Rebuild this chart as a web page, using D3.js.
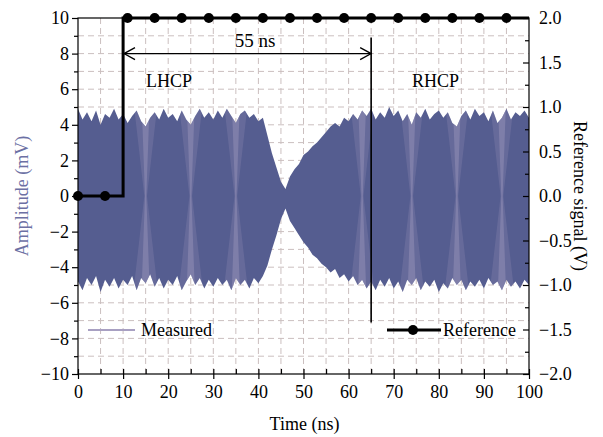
<!DOCTYPE html>
<html>
<head>
<meta charset="utf-8">
<script src="https://cdn.jsdelivr.net/npm/d3@7"></script>
<style>
  body { margin: 0; background: #fff; }
  text { font-family: "Liberation Serif", "Times New Roman", serif; }
</style>
</head>
<body>
<div id="chart"></div>
<script>
// measured envelope, every 1 ns (mV)
const timeNs = d3.range(0, 101)
const upperMv = [
  4.9, 4.3, 4.7, 4.2, 4.8, 4.0, 4.6, 4.4, 4.9, 4.3,
  4.6, 4.1, 4.5, 4.8, 4.2, 3.9, 4.4, 4.7, 4.3, 4.9,
  4.4, 4.6, 4.2, 4.8, 4.3, 4.0, 4.5, 4.9, 4.4, 4.7,
  4.3, 4.8, 4.4, 4.9, 4.5, 4.1, 4.6, 4.8, 4.4, 4.6,
  4.2, 4.4, 3.4, 2.4, 1.6, 0.8, 0.4, 1.1, 1.5, 1.8,
  2.3, 2.5, 2.8, 3.0, 3.3, 3.6, 3.9, 4.1, 3.9, 4.4,
  4.2, 4.6, 4.3, 4.8, 4.5, 4.9, 4.3, 4.7, 4.4, 5.0,
  4.5, 4.8, 4.2, 4.6, 4.0, 4.7, 4.4, 4.9, 4.3, 4.6,
  4.8, 4.4, 4.7, 4.1, 3.9, 4.5, 4.8, 4.3, 4.9, 4.5,
  4.7, 4.2, 4.8, 4.1, 4.4, 4.9, 4.3, 4.7, 4.5, 4.8,
  4.4
]
const lowerMv = [
  -4.8, -5.3, -4.6, -5.0, -4.5, -5.4, -4.7, -5.1, -4.6, -5.2,
  -4.7, -5.0, -4.5, -5.3, -4.6, -4.9, -4.4, -5.1, -4.6, -5.2,
  -4.7, -5.0, -4.5, -5.3, -4.8, -4.4, -5.0, -4.6, -5.2, -4.7,
  -5.1, -4.6, -5.0, -4.7, -5.3, -4.6, -5.0, -4.7, -5.2, -4.6,
  -4.9, -4.5, -3.9, -3.0, -2.2, -1.3, -0.7, -1.4, -1.8, -2.2,
  -2.6, -2.9, -3.3, -3.5, -3.8, -4.0, -4.3, -4.1, -4.6, -4.4,
  -4.8, -4.5, -5.0, -4.7, -5.2, -4.8, -5.3, -4.7, -5.1, -4.6,
  -5.2, -4.8, -5.4, -4.7, -5.0, -4.6, -5.3, -4.8, -5.1, -4.7,
  -5.4, -4.9, -5.2, -4.6, -5.0, -4.7, -5.3, -4.8, -5.1, -4.7,
  -5.2, -4.6, -5.0, -4.8, -5.3, -4.7, -5.1, -4.8, -5.2, -4.7,
  -5.0
]
// lighter beat streaks in the measured trace (ns)
const streakNs = [15, 25, 35, 63, 74, 84, 94]

// reference signal (V)
const refStepNs = [0, 10, 10, 100]
const refStepV = [0, 0, 2, 2]
const refDotNs = [0, 6, 11, 17, 23, 29, 35, 41, 47, 53, 59, 65, 71, 77, 83, 89, 95]
const refDotV = [0, 0, 2, 2, 2, 2, 2, 2, 2, 2, 2, 2, 2, 2, 2, 2, 2]

const xTicks = [0, 10, 20, 30, 40, 50, 60, 70, 80, 90, 100]
const yLeftTicks = [-10, -8, -6, -4, -2, 0, 2, 4, 6, 8, 10]
const yRightTicks = [-2, -1.5, -1, -0.5, 0, 0.5, 1, 1.5, 2]

const W = 603, H = 437
const L = 78, R = 529, T = 18, B = 374
const wave = '#555d90'
const font = '18px'

const svg = d3.select('#chart').append('svg')
  .attr('width', W)
  .attr('height', H)

const x = d3.scaleLinear().domain([0, 100]).range([L, R])
const y = d3.scaleLinear().domain([-10, 10]).range([B, T])
const y2 = d3.scaleLinear().domain([-2, 2]).range([B, T])

// dashed grid at every minor step
const grid = svg.append('g')
  .style('stroke', '#cbbfbf')
  .style('stroke-width', 1)
  .style('stroke-dasharray', '6,4')
grid.selectAll('.gx')
  .data(d3.range(5, 100, 5))
  .enter().append('line')
    .attr('x1', d => x(d)).attr('x2', d => x(d))
    .attr('y1', T).attr('y2', B)
grid.selectAll('.gy')
  .data(d3.range(-9, 10, 1))
  .enter().append('line')
    .attr('x1', L).attr('x2', R)
    .attr('y1', d => y(d)).attr('y2', d => y(d))

// measured trace
const env = timeNs.map((t, i) => ({ t, hi: upperMv[i], lo: lowerMv[i] }))
const area = d3.area()
  .x(d => x(d.t))
  .y0(d => y(d.lo))
  .y1(d => y(d.hi))

svg.append('clipPath')
  .attr('id', 'env')
  .append('path')
    .attr('d', area(env))

svg.append('path')
  .attr('d', area(env))
  .style('fill', wave)

// hourglass-shaped lighter beats
const beats = svg.append('g').attr('clip-path', 'url(#env)')
beats.selectAll('.wide')
  .data(streakNs)
  .enter().append('path')
    .attr('d', t => `M${x(t - 3)},${y(6)} L${x(t + 3)},${y(6)} L${x(t + 0.3)},${y(0)}
      L${x(t + 3)},${y(-6)} L${x(t - 3)},${y(-6)} L${x(t - 0.3)},${y(0)} Z`)
    .style('fill', '#a69cc0')
    .style('opacity', 0.22)
beats.selectAll('.core')
  .data(streakNs)
  .enter().append('path')
    .attr('d', t => `M${x(t - 1)},${y(6)} L${x(t + 1)},${y(6)} L${x(t + 0.15)},${y(0)}
      L${x(t + 1)},${y(-6)} L${x(t - 1)},${y(-6)} L${x(t - 0.15)},${y(0)} Z`)
    .style('fill', '#b5abcc')
    .style('opacity', 0.3)

// frame + axes
svg.append('rect')
  .attr('x', L).attr('y', T)
  .attr('width', R - L).attr('height', B - T)
  .style('fill', 'none')
  .style('stroke', '#000')
  .style('stroke-width', 1.2)

const axisStyle = g => {
  g.select('.domain').remove()
  g.selectAll('line').style('stroke', '#000').style('stroke-width', 1.2)
  g.selectAll('text').style('font-size', font).style('fill', '#000')
    .style('font-family', '"Liberation Serif", serif')
}

svg.append('g')
  .attr('transform', `translate(0,${B})`)
  .call(d3.axisBottom(x).tickValues(xTicks).tickSize(5).tickPadding(6))
  .call(axisStyle)
  .call(g => g.selectAll('line').attr('y1', -5))
svg.append('g')
  .attr('transform', `translate(0,${B})`)
  .call(d3.axisBottom(x).tickValues(d3.range(5, 100, 10)).tickSize(-5).tickFormat(''))
  .call(axisStyle)

svg.append('g')
  .attr('transform', `translate(${L},0)`)
  .call(d3.axisLeft(y).tickValues(yLeftTicks).tickSize(6).tickPadding(3))
  .call(axisStyle)
svg.append('g')
  .attr('transform', `translate(${L},0)`)
  .call(d3.axisLeft(y).tickValues(d3.range(-9, 10, 2)).tickSize(4).tickFormat(''))
  .call(axisStyle)

svg.append('g')
  .attr('transform', `translate(${R},0)`)
  .call(d3.axisRight(y2).tickValues(yRightTicks).tickSize(-6).tickPadding(10).tickFormat(d3.format('.1f')))
  .call(axisStyle)
svg.append('g')
  .attr('transform', `translate(${R},0)`)
  .call(d3.axisRight(y2).tickValues(d3.range(-1.75, 2, 0.5)).tickSize(-4).tickFormat(''))
  .call(axisStyle)

// annotations
const ann = svg.append('g').style('stroke', '#000').style('fill', 'none').style('stroke-width', 1.3)
ann.append('line')
  .attr('x1', x(10.2)).attr('x2', x(65))
  .attr('y1', y(8)).attr('y2', y(8))
ann.append('path')
  .attr('d', `M${x(10.2) + 11},${y(8) - 6} L${x(10.2)},${y(8)} L${x(10.2) + 11},${y(8) + 6}`)
ann.append('path')
  .attr('d', `M${x(65) - 11},${y(8) - 6} L${x(65)},${y(8)} L${x(65) - 11},${y(8) + 6}`)
ann.append('line')
  .attr('x1', x(65)).attr('x2', x(65))
  .attr('y1', y(8.9)).attr('y2', y(-7.1))
  .style('stroke-width', 1.6)

svg.append('text').attr('x', 255).attr('y', 47)
  .attr('text-anchor', 'middle').style('font-size', '19px').text('55 ns')
svg.append('text').attr('x', 146).attr('y', 87).style('font-size', font).text('LHCP')
svg.append('text').attr('x', 412).attr('y', 87).style('font-size', font).text('RHCP')

// reference signal
const refLine = d3.line().x(d => x(d[0])).y(d => y2(d[1]))
svg.append('path')
  .attr('d', refLine(refStepNs.map((t, i) => [t, refStepV[i]])))
  .style('fill', 'none')
  .style('stroke', '#000')
  .style('stroke-width', 3)
svg.append('g')
  .selectAll('circle')
  .data(refDotNs)
  .enter().append('circle')
    .attr('cx', d => x(d))
    .attr('cy', (d, i) => y2(refDotV[i]))
    .attr('r', 5)
    .style('fill', '#000')

// legend
svg.append('line')
  .attr('x1', 88).attr('x2', 135).attr('y1', 330).attr('y2', 330)
  .style('stroke', '#a8a0c2').style('stroke-width', 2)
svg.append('text').attr('x', 141).attr('y', 336).style('font-size', font).text('Measured')
svg.append('line')
  .attr('x1', 387).attr('x2', 441).attr('y1', 330).attr('y2', 330)
  .style('stroke', '#000').style('stroke-width', 3)
svg.append('circle').attr('cx', 413).attr('cy', 330).attr('r', 5).style('fill', '#000')
svg.append('text').attr('x', 443).attr('y', 336).style('font-size', font).text('Reference')

// axis titles
svg.append('text')
  .attr('x', (L + R) / 2 + 1).attr('y', 430)
  .attr('text-anchor', 'middle').style('font-size', font).text('Time (ns)')
svg.append('text')
  .attr('transform', `translate(28,${(T + B) / 2}) rotate(-90)`)
  .attr('text-anchor', 'middle').style('font-size', font).style('fill', '#6c70a4')
  .text('Amplitude (mV)')
svg.append('text')
  .attr('transform', `translate(574,${(T + B) / 2}) rotate(90)`)
  .attr('text-anchor', 'middle').style('font-size', font).text('Reference signal (V)')
</script>
</body>
</html>
